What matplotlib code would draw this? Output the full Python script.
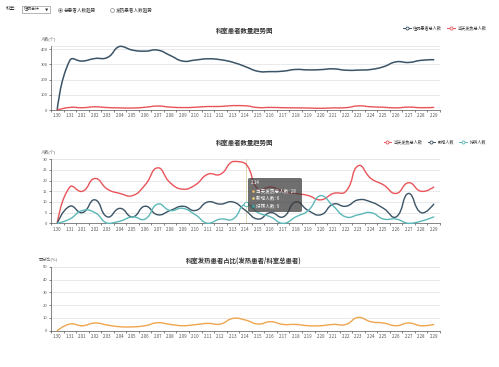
import numpy as np
import matplotlib
matplotlib.use('Agg')
import matplotlib.pyplot as plt
from matplotlib.path import Path
from matplotlib.patches import PathPatch, Rectangle, FancyBboxPatch
from matplotlib.lines import Line2D

plt.rcParams['font.family'] = ['Noto Sans CJK SC', 'DejaVu Sans']

# data
dates = ['1.30', '1.31', '2.01', '2.02', '2.03', '2.04', '2.05', '2.06', '2.07', '2.08',
         '2.09', '2.10', '2.11', '2.12', '2.13', '2.14', '2.15', '2.16', '2.17', '2.18',
         '2.19', '2.20', '2.21', '2.22', '2.23', '2.24', '2.25', '2.26', '2.27', '2.28', '2.29']
inpatient_total = [0, 325, 321, 338, 345, 418, 393, 386, 393, 358, 321, 328, 336, 330, 313, 284,
                   254, 252, 255, 266, 263, 265, 270, 261, 262, 266, 284, 316, 312, 326, 330]
fever_total = [0, 17, 15, 21, 16, 14, 13, 18, 26, 19, 16, 18, 23, 23, 29, 28,
               16, 17, 15, 14, 13, 11, 14, 15, 27, 21, 18, 14, 19, 15, 17]
new_cases = [0, 8, 5, 11, 3, 7, 3, 8, 4, 6, 8, 6, 10, 9, 10, 6,
             2, 5, 3, 10, 6, 4, 9, 8, 11, 10, 7, 3, 14, 5, 9]
improved = [0, 2, 6, 5, 0, 1, 3, 2, 9, 6, 7, 4, 0, 2, 2, 9,
            5, 3, 0, 3, 6, 13, 8, 3, 4, 5, 2, 2, 0, 1, 3]
fever_pct = [0, 5.2, 3.9, 6.0, 4.4, 3.1, 3.0, 3.9, 6.2, 4.9, 3.9, 4.7, 5.7, 5.2, 9.6, 8.3,
             5.2, 7.0, 4.9, 4.9, 3.9, 3.9, 4.9, 4.9, 10.4, 7.0, 6.0, 3.9, 6.0, 3.9, 4.9]
hover_idx = 15

c_blue = '#3b5466'
c_red = '#e8545a'
c_teal = '#5cb8b8'
c_orange = '#eea64e'

W, H = 499, 367
fig = plt.figure(figsize=(W / 100, H / 100), dpi=100)


def rect(l, t, r, b):
    return [l / W, 1 - b / H, (r - l) / W, (b - t) / H]


def fx(x):
    return x / W


def fy(y):
    return 1 - y / H


def dot(x, y, size, face, edge='none', ew=0.5, z=6):
    fig.add_artist(Line2D([fx(x)], [fy(y)], marker='o', ms=size, mfc=face, mec=edge,
                          mew=ew, transform=fig.transFigure, zorder=z))


def smooth_line(ax, y, color, lw=1.0):
    # echarts-like smooth bezier through the points
    x = np.arange(len(y))
    pts = ax.transData.transform(np.column_stack([x, y]))
    n = len(pts)
    cps = [pts[0]]
    for i in range(1, n - 1):
        prev, cur, nxt = pts[i - 1], pts[i], pts[i + 1]
        v = (nxt - prev) * 0.5
        d0 = np.hypot(*(cur - prev))
        d1 = np.hypot(*(nxt - cur))
        s = d0 + d1
        if s:
            d0, d1 = d0 / s, d1 / s
        cps.append(cur - v * d0)
        cps.append(cur + v * d1)
    cps.append(pts[-1])
    lo, hi = pts.min(axis=0), pts.max(axis=0)
    cps = [np.clip(c, lo, hi) for c in cps]
    verts = [pts[0]]
    codes = [Path.MOVETO]
    for i in range(n - 1):
        verts += [cps[2 * i], cps[2 * i + 1], pts[i + 1]]
        codes += [Path.CURVE4] * 3
    verts = ax.transData.inverted().transform(np.array(verts))
    ax.add_patch(PathPatch(Path(verts, codes), fill=False, edgecolor=color, lw=lw,
                           capstyle='round', joinstyle='round', clip_on=False, zorder=3))


def setup(ax, ymax, yticks):
    ax.set_xlim(-0.5, len(dates) - 0.5)
    ax.set_ylim(0, ymax)
    ax.set_yticks(yticks)
    ax.set_xticks(range(len(dates)))
    ax.set_xticklabels(dates)
    ax.set_xticks(np.arange(len(dates) + 1) - 0.5, minor=True)
    ax.tick_params(axis='x', which='major', length=0, labelsize=3.2, colors='#555', pad=2.5)
    ax.tick_params(axis='x', which='minor', length=1.5, width=0.5, color='#555')
    ax.tick_params(axis='y', length=1.5, width=0.5, color='#555', labelsize=3,
                   labelcolor='#555', pad=1)
    for s in ['top', 'right']:
        ax.spines[s].set_visible(False)
    for s in ['left', 'bottom']:
        ax.spines[s].set_color('#555')
        ax.spines[s].set_linewidth(0.5)
    ax.grid(axis='y', color='#e6e6e6', lw=0.6)
    ax.axhline(ymax, color='#e6e6e6', lw=0.6, zorder=0)
    ax.set_axisbelow(True)


def legend(ax, colors, labels, right, y):
    handles = [Line2D([], [], color=c, lw=0.7, marker='o', markersize=2.2,
                      markerfacecolor='white', markeredgewidth=0.6) for c in colors]
    ax.legend(handles, labels, loc='center right', bbox_to_anchor=(fx(right), fy(y)),
              bbox_transform=fig.transFigure, ncol=len(labels), frameon=False,
              fontsize=3.0, handlelength=1.85, handletextpad=0.6, columnspacing=1.2,
              borderpad=0, borderaxespad=0, labelcolor='#333')


# top controls
fig.text(fx(6), fy(9), '科室:', fontsize=3.3, color='#333', va='center')
fig.patches.append(Rectangle((fx(22), fy(13)), 28 / W, 7 / H, transform=fig.transFigure,
                             facecolor='white', edgecolor='#999', lw=0.5))
fig.text(fx(23.5), fy(9.5), '住院合计', fontsize=2.9, color='#333', va='center')
fig.text(fx(45), fy(9.5), '▼', fontsize=2.4, color='#333', va='center')
dot(60, 9.5, 2.8, 'white', '#888', 0.5)
dot(60, 9.5, 1.3, '#333')
fig.text(fx(64), fy(9.5), '总患者人数趋势', fontsize=3.3, color='#333', va='center')
dot(112, 9.5, 2.8, 'white', '#888', 0.5)
fig.text(fx(116), fy(9.5), '发热患者人数趋势', fontsize=3.3, color='#333', va='center')

# chart 1
ax1 = fig.add_axes(rect(51, 46, 440, 110))
setup(ax1, 420, [0, 100, 200, 300, 400])
smooth_line(ax1, inpatient_total, c_blue, 1.1)
smooth_line(ax1, fever_total, c_red, 1.0)
fig.text(fx(245), fy(30), '科室患者数量趋势图', fontsize=4.6, fontweight='bold',
         color='#333', ha='center', va='center')
fig.text(fx(49), fy(39), '人数(个)', fontsize=3, color='#555', ha='center', va='center')
legend(ax1, [c_blue, c_red], ['住院患者总人数', '当天发热总人数'], 486, 28)

# chart 2
ax2 = fig.add_axes(rect(51, 159.3, 440, 223.3))
setup(ax2, 30, [0, 5, 10, 15, 20, 25, 30])
ax2.axvline(hover_idx, color='#ddd3a8', lw=0.6, zorder=2)
smooth_line(ax2, fever_total, c_red, 1.0)
smooth_line(ax2, new_cases, c_blue, 1.0)
smooth_line(ax2, improved, c_teal, 1.0)
ax2.plot([hover_idx], [improved[hover_idx]], 'o', ms=3.2, mfc='white', mec=c_teal,
         mew=0.7, zorder=4, clip_on=False)
fig.text(fx(245), fy(143), '科室患者数量趋势图', fontsize=4.6, fontweight='bold',
         color='#333', ha='center', va='center')
fig.text(fx(49), fy(152), '人数(个)', fontsize=3, color='#555', ha='center', va='center')
legend(ax2, [c_red, c_blue, c_teal], ['当天发热总人数', '新增人数', '好转人数'], 486, 142)

# tooltip
fig.patches.append(FancyBboxPatch((fx(248), fy(212)), 54 / W, 34 / H,
                                  boxstyle='round,pad=0,rounding_size=0.004',
                                  transform=fig.transFigure, facecolor=(0.22, 0.22, 0.22, 0.72),
                                  edgecolor='none', zorder=5))
fig.text(fx(251), fy(183), dates[hover_idx], fontsize=3.3, color='white', va='center', zorder=6)
tip_rows = [('当天发热总人数', fever_total[hover_idx], '#f0b566'),
            ('新增人数', new_cases[hover_idx], '#f2cf74'),
            ('好转人数', improved[hover_idx], '#2fa7a7')]
for k, (name, val, dc) in enumerate(tip_rows):
    yy = 190.7 + k * 7.7
    dot(253, yy, 1.9, dc)
    fig.text(fx(256), fy(yy), f'{name}: {val}', fontsize=3.3, color='white',
             va='center', zorder=6)

# chart 3
ax3 = fig.add_axes(rect(51, 266.7, 440, 330.7))
setup(ax3, 50, [0, 10, 20, 30, 40, 50])
smooth_line(ax3, fever_pct, c_orange, 1.0)
fig.text(fx(244), fy(260), '科室发热患者占比(发热患者/科室总患者)', fontsize=4.6,
         fontweight='bold', color='#333', ha='center', va='center')
fig.text(fx(48), fy(259), '百分比(%)', fontsize=3, color='#555', ha='center', va='center')

fig.savefig('out.png', dpi=100)
